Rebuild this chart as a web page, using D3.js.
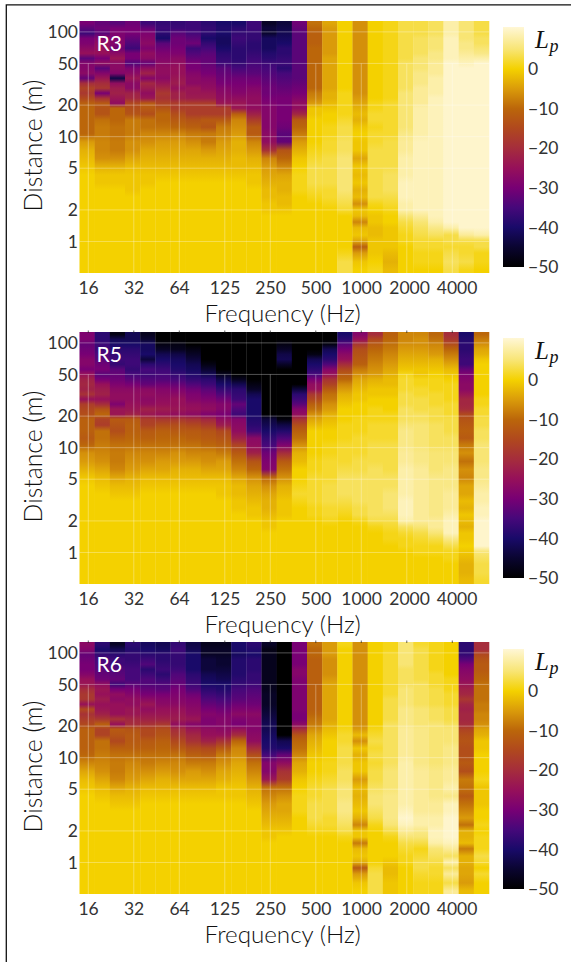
<!DOCTYPE html>
<html>
<head>
<meta charset="utf-8">
<script src="https://cdn.jsdelivr.net/npm/d3@7"></script>
<style>
  html, body { margin: 0; background: #fff; }
  svg { opacity: 0.999; }
  text { font-family: Lato, "Open Sans", sans-serif; font-weight: 300; fill: #111; }
  .tick text { font-weight: 400; fill: #333; }
  .domain { display: none; }
</style>
</head>
<body>
<svg id="chart" width="571" height="962"></svg>
<script>
const freqBands = ["16","20","25","31.5","40","50","63","80","100","125","160","200","250","315","400","500","630","800","1000","1250","1600","2000","2500","3150","4000","5000","6300"];
const freqTicks = ["16","31.5","63","125","250","500","1000","2000","4000"];
const freqTickLabels = ["16","32","64","125","250","500","1000","2000","4000"];
const distTicks = [100, 50, 20, 10, 5, 2, 1];
const levelTicks = [0, -10, -20, -30, -40, -50];
const rowDistances = [120.5,108,96.8,86.7,77.7,69.6,62.4,55.9,50.1, 44.9,40.2,36.1,32.3,29,26,23.3,20.8,18.7, 16.4,14.4,12.3,10.6,8.9,7.4,6.2,5.2,4.3, 3.61,3.09,2.65,2.28,2,1.75,1.53,1.35,1.15, 1.01,0.887,0.777,0.638,0.535];

// one line per frequency band, top row first
const r3 = [
[-30,-33,-36,-30,-29,-27,-25,-33,-28, -28,-27,-32,-20,-16,-18,-15,-11,-10, -10,-10,-10,-10,-5,-3,-2,-1,0, 0,0,0,0,0,0,0,0,0, 0,0,0,0,0],
[-32,-31,-33,-28,-26,-25,-25,-30,-26, -33,-28,-24,-20,-18,-30,-19,-12,-13, -13,-9,-8,-8,-7,-7,-6,-3,-1, -1,0,0,0,0,0,0,0,0, 0,0,0,0,0],
[-33,-30,-29,-29,-28,-31,-27,-24,-27, -27,-28,-43,-26,-23,-22,-24,-26,-10, -10,-10,-9,-9,-8,-8,-6,-3,-1, -1,0,0,0,0,0,0,0,0, 0,0,0,0,0],
[-31,-30,-30,-32,-34,-36,-30,-30,-34, -29,-27,-24,-27,-27,-22,-21,-15,-14, -13,-8,-8,-8,-6,-6,-4,-2,-1, -1,-1,0,0,0,0,0,0,0, 0,0,0,0,0],
[-36,-32,-29,-28,-27,-29,-26,-27,-32, -26,-22,-28,-21,-23,-26,-24,-12,-12, -14,-9,-9,-7,-6,-4,-3,-2,-1, -1,0,0,0,0,0,0,0,0, 0,0,0,0,0],
[-37,-36,-38,-40,-33,-31,-29,-28,-27, -26,-26,-27,-24,-21,-18,-19,-16,-13, -10,-10,-9,-7,-5,-4,-3,-2,-1, 0,0,0,0,0,0,0,0,0, 0,0,0,0,0],
[-37,-36,-33,-31,-31,-30,-29,-27,-26, -25,-25,-24,-23,-25,-22,-22,-17,-17, -14,-12,-10,-7,-5,-4,-3,-2,-1, 0,0,0,0,0,0,0,0,0, 0,0,0,0,0],
[-36,-36,-35,-33,-31,-36,-34,-32,-30, -30,-28,-27,-27,-24,-24,-23,-17,-17, -17,-13,-11,-8,-6,-4,-3,-2,-1, 0,0,0,0,0,0,0,0,0, 0,0,0,0,0],
[-38,-37,-38,-40,-37,-35,-33,-32,-32, -31,-30,-28,-27,-26,-24,-23,-17,-17, -17,-12,-13,-8,-8,-5,-3,-2,-1, 0,0,0,0,0,0,0,0,0, 0,0,0,0,0],
[-40,-39,-40,-41,-41,-40,-38,-37,-36, -33,-32,-31,-30,-28,-27,-26,-24,-17, -17,-12,-8,-7,-5,-4,-3,-2,-1, 0,0,0,0,0,0,0,0,0, 0,0,0,0,0],
[-40,-38,-37,-36,-37,-38,-38,-38,-37, -35,-33,-31,-30,-29,-28,-26,-24,-24, -11,-7,-6,-5,-3,-3,-2,-2,-1, 0,0,0,0,0,0,0,0,0, 0,0,0,0,0],
[-36,-36,-37,-37,-38,-38,-37,-36,-35, -34,-33,-31,-30,-28,-27,-26,-26,-26, -22,-17,-12,-12,-7,-5,-3,-2,-1, -1,0,0,0,0,0,0,0,0, 0,0,0,0,0],
[-46,-44,-45,-41,-41,-41,-39,-38,-36, -35,-34,-33,-32,-31,-31,-30,-29,-28, -28,-28,-28,-27,-26,-19,-7,-5,-4, -3,-2,-2,-1,-1,0,0,0,0, 0,0,0,0,0],
[-44,-43,-42,-41,-40,-38,-38,-37,-36, -38,-35,-34,-33,-32,-31,-30,-30,-30, -30,-30,-31,-33,-32,-13,-10,-7,-4, -3,-3,-2,-2,-1,0,0,0,0, 0,0,0,0,0],
[-31,-32,-33,-33,-33,-33,-33,-33,-33, -33,-33,-33,-32,-31,-30,-28,-26,-26, -21,-12,-10,-8,-5,-3,-1,0,1, 1,1,0,0,0,0,0,0,0, 0,0,0,0,0],
[-9,-10,-11,-11,-11,-10,-10,-10,-10, -10,-10,-10,-10,-10,-8,-7,-5,-1, -1,0,0,0,0,1,2,3,3, 3,2,1,0,0,0,0,0,0, 0,0,0,0,0],
[-4,-5,-5,-5,-5,-5,-5,-4,-4, -4,-4,-4,-4,-4,-3,-3,-2,-1, 0,0,1,1,2,2,3,3,3, 3,2,2,1,0,0,0,0,0, 0,0,0,0,0],
[0,0,0,0,0,0,0,0,0, 0,0,0,0,0,1,1,1,1, 1,2,3,3,4,4,5,5,5, 5,5,4,3,2,0,0,0,0, 0,0,1,3,3],
[-6,-6,-6,-6,-6,-6,-6,-6,-6, -6,-6,-6,-6,-6,-6,-5,-4,-3, -2,-3,-1,0,-1,-1,-4,-1,-2, -1,-3,-2,-6,-1,-2,-7,-2,-1, -4,-11,-5,-1,0],
[0,0,0,0,0,0,0,0,0, 0,0,0,0,0,0,0,1,1, 2,2,1,2,2,3,3,3,3, 3,3,3,1,0,-1,-1,-2,-2, -1,-1,-1,0,1],
[1,1,1,1,1,1,1,1,1, 1,1,1,1,1,1,1,2,2, 2,2,2,2,3,3,3,3,4, 4,4,3,2,1,0,0,-1,-1, -1,-1,-2,-3,-2],
[3,3,3,3,3,3,3,3,4, 4,4,4,4,4,5,5,5,5, 5,5,5,6,7,7,8,8,8, 9,9,9,8,8,5,3,2,1, 1,0,0,0,0],
[3,3,3,4,4,4,4,5,5, 5,6,6,6,7,7,7,7,8, 8,8,8,8,9,9,9,9,9, 9,9,9,9,9,7,5,4,3, 2,2,1,1,0],
[4,4,4,5,5,5,6,6,7, 7,7,8,8,8,8,9,9,9, 9,9,9,9,9,9,9,9,9, 9,9,9,9,9,9,8,6,4, 2,2,1,1,0],
[8,8,8,9,9,9,9,9,10, 10,10,10,10,10,10,10,10,10, 10,10,10,10,10,10,10,10,10, 10,10,10,10,10,10,10,8,3, 3,2,3,4,3],
[5,5,5,5,6,6,7,8,9, 10,10,10,10,10,10,10,10,10, 10,10,10,10,10,10,10,10,10, 10,10,10,10,10,10,10,10,7, 3,2,2,3,1],
[3,3,3,4,4,5,6,8,10, 10,10,10,10,10,10,10,10,10, 10,10,10,10,10,10,10,10,10, 10,10,10,10,10,10,10,10,8, 3,3,1,1,0]
];

const r5 = [
[-29,-29,-32,-31,-30,-28,-28,-30,-25, -22,-21,-22,-19,-25,-17,-15,-14,-11, -11,-11,-12,-10,-6,-5,-3,-1,0, 0,0,0,0,0,0,0,0,0, 0,0,0,0,0],
[-38,-38,-36,-36,-34,-33,-31,-30,-33, -30,-25,-23,-22,-25,-20,-13,-10,-16, -17,-9,-9,-8,-7,-6,-4,-2,-1, 0,0,0,0,0,0,0,0,0, 0,0,0,0,0],
[-48,-42,-40,-38,-37,-36,-37,-33,-32, -31,-29,-27,-26,-26,-29,-24,-24,-12, -13,-14,-11,-9,-8,-8,-7,-4,-2, -1,0,0,0,0,0,0,0,0, 0,0,0,0,0],
[-42,-42,-40,-38,-37,-36,-36,-37,-35, -33,-30,-27,-26,-26,-25,-24,-22,-12, -11,-11,-10,-9,-7,-6,-5,-3,-2, -1,0,0,0,0,0,0,0,0, 0,0,0,0,0],
[-47,-45,-41,-41,-40,-44,-38,-35,-36, -34,-32,-27,-26,-27,-26,-22,-24,-17, -16,-12,-11,-9,-7,-6,-4,-2,-1, 0,0,0,0,0,0,0,0,0, 0,0,0,0,0],
[-50,-50,-48,-46,-42,-40,-38,-36,-35, -34,-31,-28,-27,-26,-25,-23,-25,-18, -14,-11,-10,-9,-7,-5,-4,-2,-1, 0,0,0,0,0,0,0,0,0, 0,0,0,0,0],
[-50,-50,-48,-47,-43,-41,-40,-39,-37, -35,-32,-29,-27,-25,-25,-24,-26,-18, -14,-12,-10,-9,-6,-5,-3,-2,-1, 0,0,0,0,0,0,0,0,0, 0,0,0,0,0],
[-50,-50,-50,-48,-46,-44,-42,-41,-39, -37,-34,-31,-29,-28,-26,-25,-27,-19, -15,-12,-11,-9,-7,-5,-3,-2,-1, 0,0,0,0,0,0,0,0,0, 0,0,0,0,0],
[-50,-50,-50,-50,-50,-50,-48,-45,-42, -38,-36,-33,-31,-29,-27,-26,-29,-21, -17,-13,-12,-10,-7,-6,-4,-2,-1, 0,0,0,0,0,0,0,0,0, 0,0,0,0,0],
[-50,-50,-50,-50,-50,-50,-50,-50,-47, -43,-40,-37,-34,-31,-28,-28,-30,-26, -23,-15,-13,-11,-8,-5,-4,-2,-1, -1,0,0,0,0,0,0,0,0, 0,0,0,0,0],
[-50,-50,-50,-50,-50,-50,-50,-50,-50, -47,-42,-38,-37,-36,-32,-34,-36,-28, -27,-26,-22,-16,-12,-9,-7,-4,-2, -2,-1,-1,0,0,0,0,0,0, 0,0,0,0,0],
[-50,-50,-50,-50,-50,-50,-50,-50,-50, -50,-48,-46,-42,-40,-40,-40,-40,-39, -38,-36,-27,-26,-22,-13,-10,-6,-4, -3,-2,-1,-1,0,0,0,0,0, 0,0,0,0,0],
[-50,-50,-50,-50,-50,-50,-50,-50,-50, -50,-50,-50,-50,-50,-50,-50,-50,-44, -42,-40,-37,-35,-31,-29,-28,-10,-6, -4,-3,-3,-2,-1,-1,0,0,0, 0,0,0,0,0],
[-50,-50,-48,-46,-43,-42,-46,-50,-50, -50,-50,-50,-50,-50,-50,-50,-50,-49, -43,-39,-34,-29,-20,-12,-9,-6,-3, -2,-1,-1,-1,0,0,0,0,0, 0,0,0,0,0],
[-50,-50,-50,-50,-50,-50,-50,-50,-50, -50,-50,-44,-38,-36,-33,-28,-26,-19, -14,-11,-9,-6,-3,-2,0,0,1, 2,1,0,0,0,0,0,0,0, 0,0,0,0,0],
[-50,-50,-50,-50,-48,-42,-40,-38,-35, -30,-26,-25,-18,-15,-11,-9,-6,-4, -2,0,0,0,0,1,1,2,2, 2,2,1,1,0,0,0,0,0, 0,0,0,0,0],
[-50,-50,-48,-42,-40,-38,-34,-28,-25, -19,-16,-12,-9,-8,-6,-5,-3,-2, -1,0,0,1,1,2,2,2,3, 3,3,2,2,1,0,0,0,0, 0,0,0,0,0],
[-40,-38,-33,-30,-27,-25,-20,-15,-12, -10,-7,-5,-3,-2,-1,0,0,0, 1,1,1,2,2,2,3,4,4, 4,3,2,1,0,0,0,0,0, 0,0,0,0,0],
[-28,-25,-18,-14,-13,-12,-11,-8,-6, -4,-3,-2,-1,-1,0,0,0,1, 1,1,2,2,2,3,3,4,4, 4,4,3,3,1,0,0,0,0, 0,0,0,0,0],
[-20,-15,-12,-10,-9,-8,-7,-6,-5, -3,-2,-1,-1,0,0,1,1,1, 2,2,2,3,3,3,4,4,4, 4,4,4,4,3,1,0,0,0, 0,0,0,0,0],
[-11,-10,-9,-8,-7,-6,-5,-4,-3, -2,-2,-1,-1,0,0,0,1,1, 2,2,2,3,3,3,3,4,4, 5,5,5,4,3,2,1,1,0, 0,0,0,0,0],
[-7,-7,-6,-5,-4,-3,-2,-1,1, 2,2,2,3,3,3,4,4,4, 5,6,6,6,7,7,8,8,8, 8,9,9,9,8,4,2,1,1, 0,0,0,0,0],
[-7,-6,-6,-5,-4,-3,-2,-1,-1, 1,1,2,2,3,3,3,4,4, 5,5,5,5,6,6,7,7,7, 7,7,7,7,7,5,3,2,1, 1,0,0,0,0],
[-10,-9,-7,-6,-5,-3,-2,-1,0, 1,1,1,2,2,2,3,3,3, 4,4,4,4,5,5,5,6,6, 6,6,6,6,7,7,5,3,1, 1,0,0,0,0],
[-20,-18,-14,-10,-8,-6,-4,-2,-1, 0,1,1,1,1,2,2,2,3, 3,3,4,4,5,5,6,6,6, 7,7,7,8,9,9,9,6,3, 1,1,0,0,0],
[-40,-39,-38,-38,-37,-36,-36,-32,-29, -28,-27,-27,-24,-21,-21,-20,-15,-13, -12,-11,-12,-8,-6,-9,-6,-7,-4, -4,-2,-3,-1,-2,-3,-1,-1,0, -1,-2,-3,-3,-2],
[-10,-8,-6,-4,-3,-1,0,0,0, 0,0,0,0,1,1,2,2,3, 3,4,4,5,5,5,6,6,7, 8,8,9,9,10,10,10,10,10, 5,4,3,3,2]
];

const r6 = [
[-27,-28,-32,-31,-30,-30,-28,-25,-24, -20,-18,-18,-25,-15,-19,-17,-15,-11, -11,-11,-11,-10,-7,-4,-2,-1,0, 0,0,0,0,0,0,0,0,0, 0,0,0,0,0],
[-38,-40,-37,-35,-34,-33,-32,-31,-26, -24,-25,-23,-25,-24,-22,-18,-11,-16, -16,-9,-9,-8,-7,-6,-4,-2,-1, 0,0,0,0,0,0,0,0,0, 0,0,0,0,0],
[-46,-42,-38,-36,-36,-34,-33,-32,-36, -30,-26,-27,-25,-25,-25,-19,-25,-12, -13,-15,-11,-9,-8,-8,-7,-4,-2, -1,0,0,0,0,0,0,0,0, 0,0,0,0,0],
[-38,-39,-37,-37,-36,-35,-35,-35,-33, -30,-28,-26,-26,-24,-24,-21,-20,-13, -12,-12,-11,-9,-7,-6,-5,-3,-2, -1,0,0,0,0,0,0,0,0, 0,0,0,0,0],
[-41,-40,-38,-36,-34,-38,-36,-34,-34, -32,-30,-27,-24,-26,-24,-22,-19,-15, -15,-12,-11,-9,-8,-6,-4,-2,-1, 0,0,0,0,0,0,0,0,0, 0,0,0,0,0],
[-42,-41,-38,-38,-37,-36,-38,-36,-34, -33,-30,-28,-27,-25,-24,-22,-18,-14, -13,-11,-10,-9,-7,-5,-3,-2,-1, 0,0,0,0,0,0,0,0,0, 0,0,0,0,0],
[-37,-36,-37,-37,-37,-36,-34,-33,-32, -30,-29,-28,-27,-25,-24,-23,-26,-20, -18,-15,-12,-9,-7,-6,-4,-2,-1, 0,0,0,0,0,0,0,0,0, 0,0,0,0,0],
[-43,-42,-40,-40,-40,-40,-38,-37,-36, -34,-31,-29,-28,-27,-26,-24,-28,-24, -21,-19,-14,-11,-8,-5,-4,-2,-1, 0,0,0,0,0,0,0,0,0, 0,0,0,0,0],
[-47,-46,-46,-44,-44,-44,-42,-41,-40, -38,-36,-34,-32,-30,-28,-29,-29,-26, -25,-22,-15,-12,-8,-6,-4,-2,-1, 0,0,0,0,0,0,0,0,0, 0,0,0,0,0],
[-47,-46,-46,-45,-45,-44,-43,-42,-40, -39,-37,-35,-33,-31,-29,-28,-28,-27, -25,-19,-12,-8,-6,-4,-3,-1,-1, 0,0,0,0,0,0,0,0,0, 0,0,0,0,0],
[-40,-40,-41,-39,-39,-39,-39,-38,-37, -35,-34,-33,-31,-29,-27,-29,-30,-25, -20,-10,-7,-6,-4,-3,-2,-1,-1, 0,0,0,0,0,0,0,0,0, 0,0,0,0,0],
[-38,-39,-40,-38,-38,-38,-37,-37,-36, -34,-33,-32,-31,-29,-27,-28,-28,-28, -27,-26,-20,-14,-9,-7,-5,-3,-2, -1,0,0,0,0,0,0,0,0, 0,0,0,0,0],
[-46,-48,-47,-47,-47,-47,-47,-47,-47, -47,-46,-46,-46,-45,-44,-43,-42,-42, -41,-40,-39,-35,-28,-28,-24,-9,-7, -5,-4,-3,-2,-1,-1,0,0,0, 0,0,0,0,0],
[-50,-50,-50,-50,-50,-50,-50,-50,-50, -50,-50,-50,-50,-50,-50,-50,-50,-50, -50,-42,-40,-32,-26,-19,-17,-9,-6, -4,-4,-3,-2,-1,0,0,0,0, 0,0,0,0,0],
[-30,-30,-30,-30,-30,-28,-28,-29,-29, -29,-29,-29,-29,-29,-30,-30,-27,-20, -13,-10,-9,-7,-4,-3,-1,0,1, 1,1,0,0,0,0,0,0,0, 0,0,0,0,0],
[-9,-10,-10,-11,-11,-11,-11,-11,-11, -11,-11,-11,-11,-11,-10,-9,-8,-6, -4,-3,-2,-1,0,0,1,2,2, 3,3,3,2,1,0,0,0,0, 0,0,0,0,0],
[-5,-5,-5,-6,-6,-6,-6,-5,-4, -4,-4,-4,-4,-4,-4,-4,-3,-2, -1,0,0,0,1,1,2,3,3, 3,3,2,2,1,0,0,0,0, 0,0,0,0,0],
[1,0,0,0,0,0,0,0,0, 0,0,0,0,0,0,0,0,1, 2,2,3,3,3,4,4,5,5, 6,6,5,4,3,1,0,0,0, 0,0,0,0,0],
[-6,-6,-6,-6,-6,-6,-6,-6,-6, -6,-6,-6,-6,-6,-6,-6,-6,-5, -2,-6,-1,-3,-1,-1,-5,-2,-3, -2,-1,-3,-7,-1,-1,-8,-2,-1, -3,-12,-5,-1,0],
[0,0,0,0,0,0,0,0,0, 0,0,0,0,0,0,0,0,1, 2,3,2,3,2,3,3,4,5, 5,4,3,1,0,0,0,0,0, 0,2,3,3,3],
[1,1,2,2,2,2,2,2,2, 2,2,3,3,3,3,3,4,4, 4,4,4,4,4,5,5,5,6, 6,6,6,5,3,1,0,0,0, -1,-2,-2,-1,-1],
[5,5,5,5,5,4,4,4,4, 5,5,5,5,6,6,6,6,7, 7,7,7,7,8,8,8,8,8, 8,9,10,9,7,5,3,2,1, 1,0,0,0,0],
[2,3,3,3,3,3,3,3,4, 4,4,4,4,5,5,5,5,6, 6,6,6,6,6,7,7,7,7, 7,7,8,8,6,5,3,1,2, 3,3,2,1,1],
[1,1,1,1,1,1,2,2,2, 3,3,3,3,4,4,4,5,5, 5,5,5,5,5,6,6,6,6, 7,7,8,8,9,9,8,5,4, 3,2,2,1,1],
[0,0,0,0,0,0,0,1,1, 1,2,2,2,3,3,3,4,5, 5,5,6,6,6,7,7,8,6, 9,9,10,10,10,10,9,7,4, 8,4,7,3,7],
[-38,-38,-37,-34,-30,-28,-27,-26,-24, -22,-21,-18,-21,-22,-21,-21,-20,-16, -14,-13,-14,-14,-12,-14,-8,-9,-12, -9,-7,-5,-9,-3,-3,-2,-8,-3, -3,-4,-4,-5,-2],
[-20,-20,-15,-13,-12,-12,-11,-10,-9, -9,-9,-9,-8,-8,-7,-7,-6,-4, -3,-1,-1,0,0,0,1,-1,-1, -1,0,0,1,0,1,1,1,3, 2,0,2,0,0]
];

const panels = [
  { label: "R3", values: r3, top: 21, barTop: 27 },
  { label: "R5", values: r5, top: 332, barTop: 338 },
  { label: "R6", values: r6, top: 642, barTop: 649 }
];

const margin = { left: 79.5 };
const width = 409.5;
const height = 252;
const barHeight = 240;

const color = d3.scaleLinear()
  .domain([-50, -45, -40, -35, -30, -25, -20, -15, -10, -5, 0, 5, 10.6])
  .range(["#000000", "#0a0530", "#190a69", "#46087a", "#780074", "#96105a", "#a52d3c", "#b0481e", "#bb660a", "#da9b0a", "#f4d100", "#f8e574", "#fff7d6"])
  .clamp(true);

const x = d3.scaleBand().domain(freqBands).range([0, width]);
const y = d3.scaleLog().domain([127, 0.5]).range([0, height]);
const barScale = d3.scaleLinear().domain([-50, 10.6]).range([barHeight, 0]);

const svg = d3.select("#chart");
const defs = svg.append("defs");

// frame, cut off at the right and bottom of the picture
svg.append("path")
  .attr("d", d3.line()([[6.3, 962], [6.3, 4.8], [571, 4.8]]))
  .attr("fill", "none")
  .attr("stroke", "#111")
  .attr("stroke-width", 1.3);

panels.forEach((panel, p) => {
  const g = svg.append("g")
    .attr("transform", `translate(${margin.left}, ${panel.top})`);

  panel.values.forEach((col, c) => {
    const id = `cells-${p}-${c}`;
    const grad = defs.append("linearGradient")
      .attr("id", id)
      .attr("x1", 0).attr("x2", 0).attr("y1", 0).attr("y2", 1);
    grad.selectAll("stop")
      .data(col)
      .join("stop")
      .attr("offset", (d, i) => y(rowDistances[i]) / height)
      .attr("stop-color", d => color(d));
    g.append("rect")
      .attr("x", x(freqBands[c]))
      .attr("y", 0)
      .attr("width", x.bandwidth() + 0.3)
      .attr("height", height)
      .attr("fill", `url(#${id})`);
  });

  // grid
  g.selectAll(".h-grid")
    .data(distTicks)
    .join("line")
    .attr("x1", 0).attr("x2", width)
    .attr("y1", d => y(d)).attr("y2", d => y(d))
    .attr("stroke", "#fff").attr("stroke-opacity", 0.32);
  g.selectAll(".v-grid")
    .data(freqTicks)
    .join("line")
    .attr("x1", d => x(d) + x.bandwidth() / 2 + 1.2)
    .attr("x2", d => x(d) + x.bandwidth() / 2 + 1.2)
    .attr("y1", y(50)).attr("y2", height)
    .attr("stroke", "#fff").attr("stroke-opacity", 0.32);

  // short marks left of the grid on the lower two panels, at the top edge
  if (p > 0) {
    g.selectAll(".top-mark")
      .data(freqTicks)
      .join("line")
      .attr("x1", d => x(d) + x.bandwidth() / 2 + 1.2)
      .attr("x2", d => x(d) + x.bandwidth() / 2 + 1.2)
      .attr("y1", -1.5).attr("y2", 1)
      .attr("stroke", "#222").attr("stroke-opacity", 0.7);
  }

  // axes
  const xAxis = g.append("g")
    .attr("transform", `translate(0, ${height})`)
    .call(d3.axisBottom(x).tickValues(freqTicks).tickSize(0).tickPadding(9)
      .tickFormat((d, i) => freqTickLabels[i]));
  xAxis.selectAll("text")
    .attr("font-size", 17.5)
    .attr("dx", (d, i) => i === 8 ? 6 : i === 7 ? 4 : 1.5);

  const yAxis = g.append("g")
    .call(d3.axisLeft(y).tickValues(distTicks).tickSize(0).tickPadding(1.5).tickFormat(d3.format("d")));
  yAxis.selectAll("text").attr("font-size", 17.5);

  g.append("text")
    .attr("x", width / 2 - 1.5)
    .attr("y", 301)
    .attr("text-anchor", "middle")
    .attr("font-size", 24.2)
    .text("Frequency (Hz)");

  g.append("text")
    .attr("transform", `translate(-38, ${height / 2 - 1.5}) rotate(-90)`)
    .attr("text-anchor", "middle")
    .attr("font-size", 24.8)
    .text("Distance (m)");

  g.append("text")
    .attr("x", 17)
    .attr("y", 29.5)
    .attr("font-size", 21)
    .style("fill", "#fff")
    .style("font-weight", 400)
    .text(panel.label);

  // colour bar
  const bar = svg.append("g")
    .attr("transform", `translate(503, ${panel.barTop})`);
  const barId = `bar-${p}`;
  const barGrad = defs.append("linearGradient")
    .attr("id", barId)
    .attr("x1", 0).attr("x2", 0).attr("y1", 1).attr("y2", 0);
  barGrad.selectAll("stop")
    .data(color.domain())
    .join("stop")
    .attr("offset", d => 1 - barScale(d) / barHeight)
    .attr("stop-color", d => color(d));
  bar.append("rect")
    .attr("width", 21)
    .attr("height", barHeight)
    .attr("fill", `url(#${barId})`);
  const barAxis = bar.append("g")
    .attr("transform", "translate(21, 0)")
    .call(d3.axisRight(barScale).tickValues(levelTicks).tickSize(0).tickPadding(4)
      .tickFormat(d => d < 0 ? `\u2212${-d}` : d));
  barAxis.selectAll("text").attr("font-size", 17.5);

  const lp = bar.append("text")
    .attr("x", 32)
    .attr("y", 21)
    .style("font-family", "'Liberation Serif', serif")
    .style("font-weight", 400)
    .attr("font-style", "italic")
    .attr("font-size", 25)
    .text("L");
  lp.append("tspan")
    .attr("dx", 0.5)
    .attr("dy", 4)
    .attr("font-size", 18)
    .text("p");
});
</script>
</body>
</html>
